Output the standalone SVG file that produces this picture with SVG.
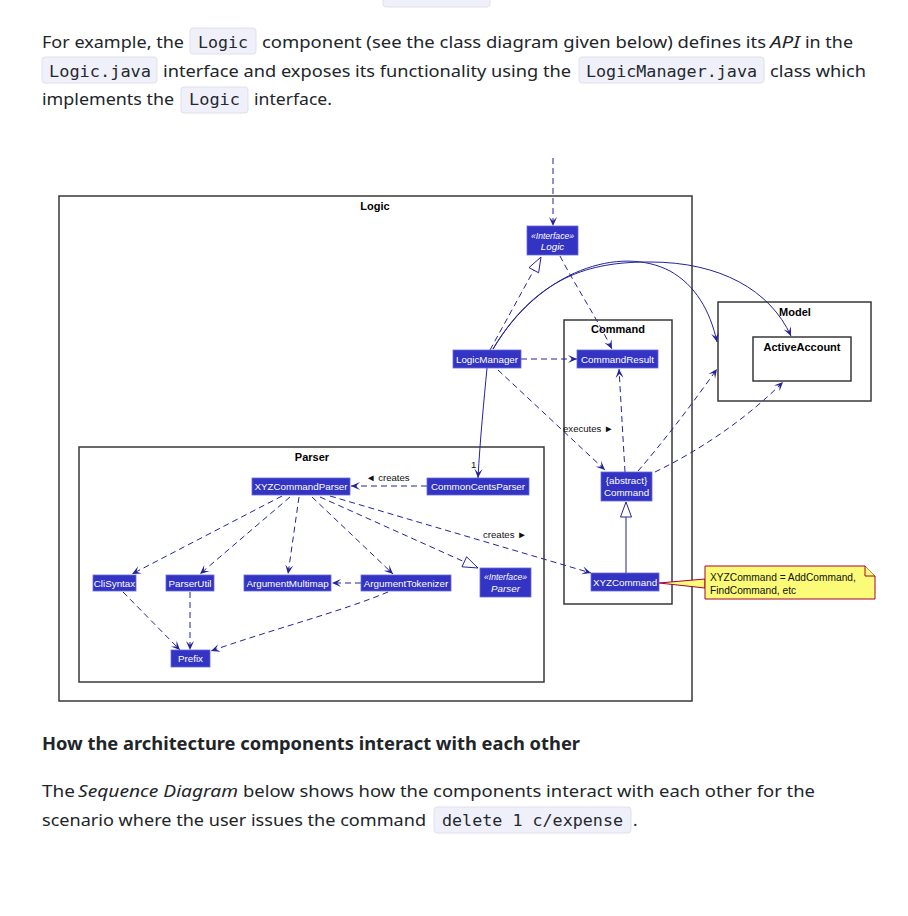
<svg xmlns="http://www.w3.org/2000/svg" width="908" height="916" viewBox="0 0 908 916">
<style>
.t{font-family:"Noto Sans","Open Sans",sans-serif;font-size:17px;fill:#212529}
.i{font-style:italic}
.h{font-weight:bold;font-size:18px}
.cb{fill:#f0f0fa;stroke:#e0e0ee;stroke-width:1}
.c{font-family:"DejaVu Sans Mono","Liberation Mono",monospace;font-size:16px;fill:#24292e}
.pkg{fill:none;stroke:#383838;stroke-width:1.5}
.pt{font-family:"Liberation Sans",Arial,sans-serif;font-weight:bold;font-size:11px;fill:#000;text-anchor:middle}
.n rect{fill:#3333C4;stroke:#6A6ADC;stroke-width:0.8}
.n text{font-family:"Liberation Sans",Arial,sans-serif;font-size:9.8px;fill:#fff;text-anchor:middle}
.n text.s{font-size:8.6px;font-style:italic}
.n text.it{font-style:italic}
.e{fill:none;stroke:#23239a;stroke-width:1}
.d{stroke-dasharray:6 4}
.tri{fill:#fff;stroke:#23239a;stroke-width:1}
.lb{font-family:"Liberation Sans",Arial,sans-serif;font-size:9.6px;fill:#111}
.note{fill:#FBFB77;stroke:#A80036;stroke-width:1}
</style>
<defs>
<marker id="a" viewBox="-10 -5 11 10" refX="0" refY="0" markerWidth="11" markerHeight="10" markerUnits="userSpaceOnUse" orient="auto"><path d="M0,0 L-9,-4 L-5,0 L-9,4 Z" fill="#23239a"/></marker>
</defs>
<rect width="908" height="916" fill="#fff"/>

<g id="text-top">
<rect class="cb" x="383" y="-19" width="107" height="26" rx="3"/>
<text class="t" x="42" y="48" textLength="142" lengthAdjust="spacingAndGlyphs">For example, the</text>
<rect class="cb" x="190" y="28" width="66" height="26" rx="3"/>
<text class="c" x="198" y="48" textLength="50" lengthAdjust="spacingAndGlyphs">Logic</text>
<text class="t" x="262" y="48" textLength="504" lengthAdjust="spacingAndGlyphs">component (see the class diagram given below) defines its</text>
<text class="t i" x="770" y="48" textLength="30" lengthAdjust="spacingAndGlyphs">API</text>
<text class="t" x="805" y="48" textLength="48" lengthAdjust="spacingAndGlyphs">in the</text>
<rect class="cb" x="42" y="57" width="115" height="26" rx="3"/>
<text class="c" x="49" y="77" textLength="102" lengthAdjust="spacingAndGlyphs">Logic.java</text>
<text class="t" x="163" y="77" textLength="408" lengthAdjust="spacingAndGlyphs">interface and exposes its functionality using the</text>
<rect class="cb" x="579" y="57" width="185" height="26" rx="3"/>
<text class="c" x="586" y="77" textLength="171" lengthAdjust="spacingAndGlyphs">LogicManager.java</text>
<text class="t" x="770" y="77" textLength="96" lengthAdjust="spacingAndGlyphs">class which</text>
<text class="t" x="42" y="105" textLength="132" lengthAdjust="spacingAndGlyphs">implements the</text>
<rect class="cb" x="181" y="87" width="67" height="26" rx="3"/>
<text class="c" x="189" y="105" textLength="51" lengthAdjust="spacingAndGlyphs">Logic</text>
<text class="t" x="254" y="105" textLength="78" lengthAdjust="spacingAndGlyphs">interface.</text>
</g>

<g id="packages">
<g id="pkg-logic"><rect class="pkg" x="59" y="196" width="633" height="505"/><text class="pt" x="375" y="210">Logic</text></g>
<g id="pkg-parser"><rect class="pkg" x="79" y="447" width="465" height="235"/><text class="pt" x="312" y="461">Parser</text></g>
<g id="pkg-command"><rect class="pkg" x="564" y="320" width="108" height="284"/><text class="pt" x="618" y="333">Command</text></g>
<g id="pkg-model"><rect class="pkg" x="718" y="302" width="153" height="99"/><text class="pt" x="795" y="316">Model</text></g>
<g id="activeaccount"><rect class="pkg" x="753" y="337" width="98" height="44"/><text class="pt" x="802" y="351">ActiveAccount</text></g>
</g>

<g id="connectors">
<path class="e d" d="M553,158 L553,226" marker-end="url(#a)"/>
<path class="e d" d="M490,350 L533.8,270.2"/>
<polygon class="tri" points="541,257 538.6,272.8 529,267.6"/>
<path class="e d" d="M560,256 C575,285 595,315 612,349" marker-end="url(#a)"/>
<path class="e d" d="M521,359 L577,359" marker-end="url(#a)"/>
<path class="e" d="M487,368 C484,400 480,440 478,478" marker-end="url(#a)"/>
<path class="e d" d="M498,370 L605,470" marker-end="url(#a)"/>
<path class="e d" d="M625,472 L619,369" marker-end="url(#a)"/>
<path class="e" d="M626,573 L626,517"/>
<polygon class="tri" points="626,502 620.5,517 631.5,517"/>
<path class="e d" d="M638,471 C665,440 695,400 717,369" marker-end="url(#a)"/>
<path class="e d" d="M655,472 C700,450 745,420 783,382" marker-end="url(#a)"/>
<path class="e" d="M493,349 C540,270 620,245 670,271 C695,285 710,310 717,342" marker-end="url(#a)"/>
<path class="e" d="M493,349 C540,270 600,262 650,262 C720,262 770,290 791,336" marker-end="url(#a)"/>
<path class="e d" d="M427,486 L351,486" marker-end="url(#a)"/>
<path class="e d" d="M282,496 L132,574" marker-end="url(#a)"/>
<path class="e d" d="M290,497 L200,574" marker-end="url(#a)"/>
<path class="e d" d="M299,497 L288,574" marker-end="url(#a)"/>
<path class="e d" d="M312,497 L393,574" marker-end="url(#a)"/>
<path class="e d" d="M320,497 L464.3,561.8"/>
<polygon class="tri" points="478,568 462,566.8 466.6,556.8"/>
<path class="e d" d="M330,496 L591,573" marker-end="url(#a)"/>
<path class="e d" d="M361,583 L332,583" marker-end="url(#a)"/>
<path class="e d" d="M123,592 L180,650" marker-end="url(#a)"/>
<path class="e d" d="M190,592 L190,650" marker-end="url(#a)"/>
<path class="e d" d="M388,592 C340,612 270,630 211,651" marker-end="url(#a)"/>
<polygon class="note" points="659,583 705,579 705,588"/>
<text class="lb" x="471" y="468">1</text>
<text class="lb" x="563" y="431.5">executes ►</text>
<text class="lb" x="366" y="480.5">◄ creates</text>
<text class="lb" x="483" y="537.5">creates ►</text>
</g>

<g id="n-logic" class="n"><rect x="527" y="226" width="51" height="29"/><text class="s" x="552.5" y="239">«Interface»</text><text class="it" x="552.5" y="250">Logic</text></g>
<g id="n-logicmanager" class="n"><rect x="453" y="350" width="68" height="18"/><text x="487" y="362.5">LogicManager</text></g>
<g id="n-commandresult" class="n"><rect x="577" y="350" width="81" height="18"/><text x="617.5" y="362.5">CommandResult</text></g>
<g id="n-command" class="n"><rect x="601" y="472" width="51" height="29"/><text x="626.5" y="484">{abstract}</text><text x="626.5" y="495.5">Command</text></g>
<g id="n-commoncentsparser" class="n"><rect x="427" y="478" width="102" height="17"/><text x="478" y="490">CommonCentsParser</text></g>
<g id="n-xyzcommandparser" class="n"><rect x="252" y="478" width="98" height="17"/><text x="301" y="490">XYZCommandParser</text></g>
<g id="n-clisyntax" class="n"><rect x="93" y="575" width="43" height="16"/><text x="114.5" y="586.5">CliSyntax</text></g>
<g id="n-parserutil" class="n"><rect x="166" y="575" width="48" height="16"/><text x="190" y="586.5">ParserUtil</text></g>
<g id="n-argumentmultimap" class="n"><rect x="244" y="575" width="87" height="16"/><text x="287.5" y="586.5">ArgumentMultimap</text></g>
<g id="n-argumenttokenizer" class="n"><rect x="361" y="575" width="90" height="16"/><text x="406" y="586.5">ArgumentTokenizer</text></g>
<g id="n-parser" class="n"><rect x="480" y="568" width="51" height="29"/><text class="s" x="505.5" y="580">«Interface»</text><text class="it" x="505.5" y="591.5">Parser</text></g>
<g id="n-xyzcommand" class="n"><rect x="591" y="573" width="68" height="18"/><text x="625" y="585.5">XYZCommand</text></g>
<g id="n-prefix" class="n"><rect x="171" y="650" width="39" height="17"/><text x="190.5" y="662">Prefix</text></g>

<g id="note">
<path class="note" d="M705,566 L865,566 L875,576 L875,599 L705,599 Z"/>
<path class="note" d="M865,566 L865,576 L875,576"/>
<text class="lb" x="710" y="580.5" style="font-size:10.2px">XYZCommand = AddCommand,</text>
<text class="lb" x="710" y="593.5" style="font-size:10.2px">FindCommand, etc</text>
</g>

<g id="text-bottom">
<text class="t h" x="42" y="750" textLength="538" lengthAdjust="spacingAndGlyphs">How the architecture components interact with each other</text>
<text class="t" x="42" y="797" textLength="33" lengthAdjust="spacingAndGlyphs">The</text>
<text class="t i" x="78" y="797" textLength="160" lengthAdjust="spacingAndGlyphs">Sequence Diagram</text>
<text class="t" x="243" y="797" textLength="572" lengthAdjust="spacingAndGlyphs">below shows how the components interact with each other for the</text>
<text class="t" x="42" y="826" textLength="384" lengthAdjust="spacingAndGlyphs">scenario where the user issues the command</text>
<rect class="cb" x="434" y="807" width="197" height="26" rx="3"/>
<text class="c" x="442" y="826" textLength="181" lengthAdjust="spacingAndGlyphs">delete 1 c/expense</text>
<text class="t" x="633" y="826">.</text>
</g>
</svg>
